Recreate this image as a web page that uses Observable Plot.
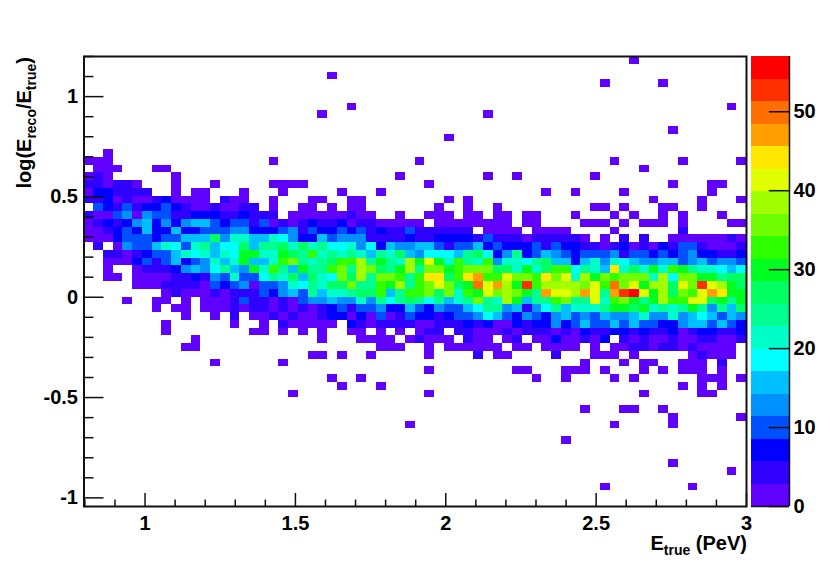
<!DOCTYPE html>
<html><head><meta charset="utf-8">
<style>html,body{margin:0;padding:0;background:#fff;width:830px;height:563px;overflow:hidden}#wrap{position:relative;width:830px;height:563px}#wrap svg{position:absolute;top:0;background:transparent}</style>
<script src="https://cdn.jsdelivr.net/npm/d3@7"></script>
<script src="https://cdn.jsdelivr.net/npm/@observablehq/plot@0.6"></script>
</head><body><div id="wrap"></div>
<script>
const xMin=0.797,xMax=3,yMin=-1.043,yMax=1.2,nCols=68,nRows=58,zMax=57,nBands=20;
const xMajor=[1,1.5,2,2.5,3];
const xMinor=[0.8,0.9,1.1,1.2,1.3,1.4,1.6,1.7,1.8,1.9,2.1,2.2,2.3,2.4,2.6,2.7,2.8,2.9];
const yMajor=[-1,-0.5,0,0.5,1];
const yMinor=[-0.9,-0.8,-0.7,-0.6,-0.4,-0.3,-0.2,-0.1,0.1,0.2,0.3,0.4,0.6,0.7,0.8,0.9,1.1,1.2];
const zTicks=[0,10,20,30,40,50];
const palette=["#6000ff","#3000ff","#0000ff","#0050ff","#0090ff","#00c0ff","#00ffff","#00ffc8","#00ff90","#00ff60","#00ff20","#30ff00","#70ff00","#a0ff00","#e0ff00","#ffe800","#ffa000","#ff7000","#ff3000","#ff0000"];

// sparse cells: [row,[columns]]
const purpleCells=[[0,[56]],[2,[25]],[3,[53,59]],[6,[27,66]],[7,[24,41]],[9,[60]],[10,[37]],[12,[2]],[13,[0,1,2,19,34,54,61,67]],[14,[1,2,3,7,8,57]],
[15,[0,2,9,32,41,44,52]],[16,[2,5,9,13,19,20,21,22,35,60,64,65]],[17,[0,9,11,12,16,20,26,30,47,50,55,64]],[18,[3,5,6,9,10,11,12,15,16,19,23,24,27,28,37,39,58,63,67]],
[37,[10,11,30,31,32,35,37,38,39,40,41,42,44,45,47,48,49,50,52,54,55,58,61,63,64,65,66]],[38,[23,24,26,29,35,42,43,52,53,54,56,62,64,65,66]],[39,[13,20,51,55,57,58,61,62,63]],[40,[35,44,45,49,50,51,53,57,59,61,62,63,65]],[41,[25,28,46,49,54,56,63,64,65,67]],[42,[26,30,61,63,65]],[43,[21,35,57,63,64]],[45,[51,55,56,59]],[46,[60,67]],[47,[33,54,60]],[49,[49]],[52,[60]],[53,[66]],[55,[53,62]]];
const indigoCells=[[15,[1]],[16,[0,1,3,4]],[17,[3,4,5,6]],[18,[0,1,4,7,14]],[37,[56,57,59,60,62]],[38,[40,48,63]],[39,[65]]];
const blueCells=[[17,[1,2]],[18,[2,8]]];

const row19=[0,10,7,4,10,4,7,7,10,7,4,2,2,4,2,2,4,4,0,2,0,0,2,2,0,2,0,2,2,0,0,0,0,0,0,0,2,0,0,2,0,0,2,0,0,0,0,0,0,0,0,0,2,2,0,2,0,0,0,2,2,0,0,2,0,0,0,0];
const row20=[4,2,2,10,13,2,13,10,10,4,4,7,7,7,4,4,7,4,4,4,0,2,2,2,2,2,2,4,2,2,0,0,2,0,0,2,2,2,0,2,2,0,2,2,0,2,2,0,0,0,2,0,0,0,2,0,2,0,0,2,0,2,0,0,0,2,0,0];
const row21=[2,4,7,4,7,13,16,7,13,7,13,16,16,10,7,10,10,4,10,2,4,2,4,7,4,4,7,2,4,4,2,2,2,2,2,0,2,2,2,2,2,2,2,2,0,2,2,0,0,0,0,2,2,2,0,2,0,2,2,2,0,2,0,0,0,0,2,2];
const row22=[2,2,4,7,10,7,16,7,7,16,7,7,10,10,10,13,13,7,7,7,10,13,4,10,7,7,10,7,10,4,7,4,4,10,4,4,4,4,4,4,0,2,2,2,2,0,2,2,2,2,0,0,0,0,2,0,0,0,0,0,0,4,0,0,0,0,0,0];
const row23=[2,2,2,7,10,10,10,7,10,10,16,16,16,27,13,21,21,16,16,21,19,13,7,7,16,10,13,13,13,4,4,4,4,7,4,4,7,7,7,7,4,10,4,4,4,2,4,4,4,4,4,2,0,2,0,4,0,4,0,0,2,2,2,2,2,2,4,2];
const row24=[0,4,0,2,13,10,10,16,21,19,10,21,24,16,19,19,27,16,24,24,27,21,27,21,24,19,19,21,13,19,7,16,13,13,16,16,10,4,10,10,16,7,10,7,7,7,10,4,10,7,7,4,4,2,4,7,2,4,2,7,4,10,10,4,2,2,2,4];
const row25=[0,0,4,4,2,4,7,10,10,16,21,19,21,16,21,19,30,30,21,21,30,27,24,33,21,24,21,24,21,16,24,21,27,16,13,19,19,19,16,24,27,19,7,13,24,7,10,16,13,10,7,10,10,10,13,4,10,10,7,10,7,10,13,7,7,4,4,7];
const row26=[0,0,2,2,2,7,10,4,10,16,7,10,13,21,16,21,30,16,16,21,33,36,24,21,24,27,33,33,39,24,30,24,21,39,30,42,30,21,33,24,21,33,13,21,21,19,24,27,16,16,7,16,21,13,21,19,16,13,13,16,16,10,13,16,10,13,13,10];
const row27=[0,0,2,0,0,2,4,4,4,7,13,16,13,19,24,16,13,30,21,33,24,16,30,24,24,33,36,24,39,36,27,24,30,39,24,36,36,30,33,36,36,36,27,27,21,30,21,27,33,33,19,24,21,16,44,21,27,21,30,21,33,30,24,21,21,19,16,19];
const row28=[0,0,2,2,0,2,2,2,2,4,4,7,4,13,10,21,10,10,19,24,21,27,16,27,21,19,36,27,39,24,36,36,33,24,33,44,44,27,33,44,47,33,33,42,36,36,33,44,36,42,21,39,30,36,33,36,36,36,21,39,19,36,36,30,30,24,27,27];
const row29=[0,0,0,0,0,2,2,2,4,4,4,4,2,10,7,10,13,2,10,10,13,21,19,24,21,27,27,36,24,24,33,30,39,24,33,36,42,36,27,30,50,42,47,39,30,53,33,39,39,39,39,36,42,33,50,36,42,30,39,39,27,42,36,53,42,39,30,27];
const row30=[0,0,0,0,0,0,0,0,2,4,2,2,2,4,2,4,4,4,10,7,13,16,10,24,16,21,21,24,27,27,33,16,24,33,33,36,27,36,21,33,30,42,36,39,36,30,24,47,42,42,39,47,42,24,47,53,56,42,30,39,27,36,33,42,47,44,30,30];
const row31=[0,0,0,0,2,0,0,2,2,0,2,0,2,2,2,4,10,4,4,2,4,2,10,13,13,16,13,13,21,13,24,19,24,27,24,19,24,16,21,24,36,24,21,39,30,16,24,24,33,36,24,24,42,21,33,36,30,24,30,39,33,33,42,42,27,30,24,30];
const row32=[0,0,0,0,0,0,0,2,0,2,2,0,2,2,2,4,2,4,4,2,4,2,4,2,4,7,10,4,10,10,13,7,7,16,10,7,13,10,10,16,19,24,24,13,16,4,13,19,24,16,21,21,21,24,30,30,27,30,21,24,21,24,30,24,13,24,16,27];
const row33=[0,0,0,0,0,0,0,0,0,0,2,0,0,2,0,4,0,2,2,4,2,4,2,2,4,7,7,2,7,2,10,2,4,10,7,7,4,7,10,10,13,19,16,10,7,13,10,7,13,16,10,13,10,16,13,13,16,21,13,13,21,13,16,19,16,10,16,13];
const row34=[0,0,0,0,0,0,0,0,2,0,0,0,0,0,0,2,0,0,2,0,4,2,2,2,2,2,0,7,4,2,4,4,4,4,2,2,4,4,4,7,4,7,2,2,7,4,7,7,13,7,10,16,10,10,16,10,16,10,10,7,7,13,16,16,10,16,10,7];
const row35=[0,0,0,0,0,0,0,0,2,0,0,0,0,0,0,0,0,2,2,0,2,0,2,0,2,0,0,2,2,0,2,0,2,0,2,4,4,0,4,4,2,2,2,4,2,4,4,4,2,4,2,7,4,4,7,7,4,7,4,4,7,2,4,7,7,4,4,7];
const row36=[0,0,0,0,0,0,0,0,0,0,0,2,0,0,0,0,0,0,0,0,0,0,0,0,2,0,0,0,2,2,2,2,0,2,4,2,2,2,0,4,2,2,0,2,4,0,2,2,7,2,2,4,2,7,0,4,2,4,2,2,4,2,2,4,4,2,2,4];
const denseRows=[[19,row19],[20,row20],[21,row21],[22,row22],[23,row23],[24,row24],[25,row25],[26,row26],[27,row27],[28,row28],[29,row29],[30,row30],[31,row31],[32,row32],[33,row33],[34,row34],[35,row35],[36,row36]];

const dx=(xMax-xMin)/nCols, dy=(yMax-yMin)/nRows;
const cell=(r,c,v)=>({x1:xMin+c*dx,x2:xMin+(c+1)*dx,y1:yMax-(r+1)*dy,y2:yMax-r*dy,v});
const cells=[];
for(const [list,v] of [[purpleCells,1],[indigoCells,4],[blueCells,7]]) for(const [r,cols] of list) for(const c of cols) cells.push(cell(r,c,v));
for(const [r,vals] of denseRows) vals.forEach((v,c)=>{ if(v>0) cells.push(cell(r,c,v)); });

const thresholds=d3.range(1,nBands).map(i=>i*zMax/nBands);
const colorOpt={type:"threshold",domain:thresholds,range:palette};
const tx=20/300.75, ty=13/200.6;          // major tick lengths in data units
const font="'Liberation Sans',Arial,sans-serif";

const main=Plot.plot({width:830,height:563,marginLeft:83.5,marginRight:84,marginTop:56,marginBottom:57,
  style:{fontFamily:font,fontWeight:"bold",background:"transparent",color:"#000"},
  x:{domain:[xMin,xMax],axis:null},y:{domain:[yMin,yMax],axis:null},color:colorOpt,
  marks:[
    Plot.rect(cells,{x1:"x1",x2:"x2",y1:"y1",y2:"y2",fill:"v",shapeRendering:"crispEdges"}),
    Plot.ruleX(xMajor,{y1:yMin,y2:yMin+ty,stroke:"#111",strokeWidth:1.5}),
    Plot.ruleX(xMinor,{y1:yMin,y2:yMin+ty/2,stroke:"#111",strokeWidth:1.5}),
    Plot.ruleY(yMajor,{x1:xMin,x2:xMin+tx,stroke:"#111",strokeWidth:1.5}),
    Plot.ruleY(yMinor,{x1:xMin,x2:xMin+tx/2,stroke:"#111",strokeWidth:1.5}),
    Plot.frame({stroke:"#111",strokeWidth:2}),
    Plot.axisX(xMajor,{anchor:"bottom",tickSize:0,tickPadding:9,fontSize:20,label:null,tickFormat:d=>String(d)}),
    Plot.axisY(yMajor,{anchor:"left",tickSize:0,tickPadding:6,fontSize:20,label:null,tickFormat:d=>String(d)})
  ]});

const bands=d3.range(nBands).map(i=>({y1:i*zMax/nBands,y2:(i+1)*zMax/nBands,v:(i+0.5)*zMax/nBands}));
const bar=Plot.plot({width:79,height:563,marginLeft:0,marginRight:41,marginTop:56,marginBottom:57,
  style:{fontFamily:font,fontWeight:"bold",background:"transparent",color:"#000"},
  x:{domain:[0,1],axis:null},y:{domain:[0,zMax],axis:null},color:colorOpt,
  marks:[
    Plot.rect(bands,{x1:0,x2:1,y1:"y1",y2:"y2",fill:"v",shapeRendering:"crispEdges"}),
    Plot.ruleY(zTicks,{x1:0.47,x2:1,stroke:"#111",strokeWidth:1.5}),
    Plot.ruleX([1],{y1:0,y2:zMax,stroke:"#111",strokeWidth:1.5}),
    Plot.ruleY([0],{x1:0,x2:1,stroke:"#111",strokeWidth:1.5}),
    Plot.axisY(zTicks,{anchor:"right",tickSize:0,tickPadding:4,fontSize:20,label:null,tickFormat:d=>String(d)})
  ]});
bar.style.left="751px";
main.style.left="0";
const wrap=document.getElementById("wrap");
wrap.append(main,bar);

function label(svg,parts,attrs){
  const t=d3.select(svg).append("text").attr("font-family",font).attr("font-weight","bold").attr("font-size",20).attr("fill","#000");
  for(const k in attrs) t.attr(k,attrs[k]);
  let shift=0;
  for(const [s,sub] of parts){
    const span=t.append("tspan").text(s);
    if(sub){span.attr("font-size",14).attr("dy",5);shift=5;}
    else if(shift){span.attr("dy",-shift);shift=0;}
  }
}
label(main,[["E"],["true",1],[" (PeV)"]],{x:747,y:550,"text-anchor":"end"});
label(main,[["log(E"],["reco",1],["/E"],["true",1],[")"]],{transform:"translate(31,57) rotate(-90)","text-anchor":"end"});
</script></body></html>
